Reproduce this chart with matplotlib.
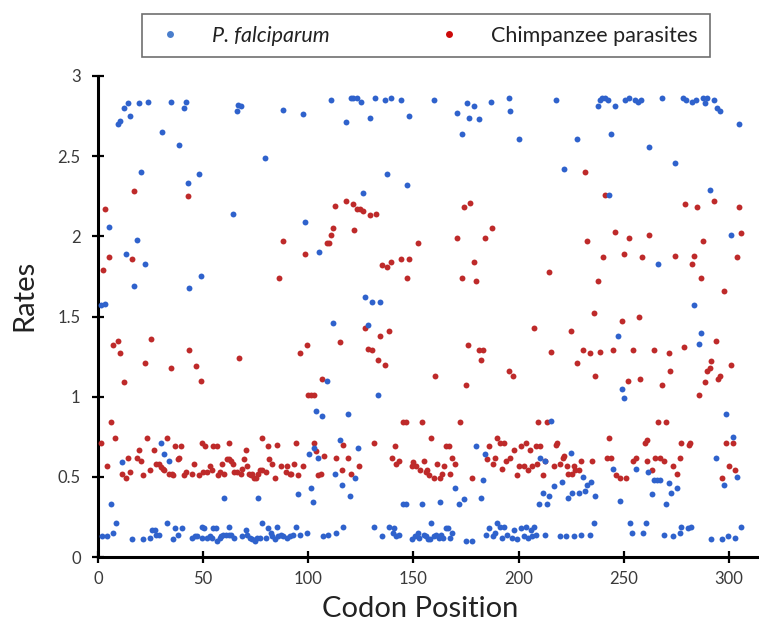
import matplotlib
matplotlib.use("Agg")
import matplotlib.pyplot as plt
from matplotlib.lines import Line2D

plt.rcParams['font.family'] = ['Lato', 'DejaVu Sans']

# P. falciparum rates by codon position
pf_x = [9.3, 10.5, 12.5, 14.4, 15.3, 19.7, 23.8, 30.5, 34.6, 38.5, 40.8, 42.0, 20.6, 43.0, 47.9,
        5.2, 18.6, 13.3, 22.4, 17.3, 43.5, 48.8, 1.3, 3.1, 29.8, 31.5, 33.7, 11.5, 6.1, 8.4,
        2.1, 4.5, 7.3, 16.4, 21.3, 24.8, 25.7, 26.9, 27.8, 28.9, 32.6, 35.5, 36.6, 37.9, 39.9,
        44.7, 46.2, 47.0,
        65.9, 66.7, 67.9, 88.1, 97.3, 79.3, 64.1, 98.2, 59.9, 76.1, 95.0, 101.2, 102.3, 103.7,
        102.9, 100.2, 49.6, 50.6, 49.3, 51.9, 53.2, 54.3, 54.8, 55.9, 56.7, 57.9, 58.6, 59.6,
        60.7, 62.1, 62.3, 63.4, 64.6, 68.7, 70.2, 71.0, 72.3, 73.4, 74.5, 75.8, 77.0, 78.2,
        79.7, 81.0, 82.2, 82.9, 84.0, 85.3, 85.7, 86.9, 88.1, 89.8, 91.3, 92.5, 94.0, 96.0, 99.3,
        110.9, 120.5, 121.4, 123.1, 125.0, 131.9, 136.3, 139.2, 144.0, 117.8, 129.1, 147.9,
        137.4, 147.0, 126.1, 105.3, 127.1, 130.1, 134.2, 111.8, 128.2, 108.9, 133.3, 106.5,
        119.0, 115.0, 123.8, 104.5, 112.9, 122.3, 115.8, 119.9, 145.2, 146.3, 154.0, 107.2,
        109.2, 113.4, 116.3, 131.2, 135.1, 138.4, 140.8, 140.4, 141.9, 143.1, 149.2, 150.8,
        152.1, 152.7, 155.0, 156.0,
        159.7, 175.5, 178.6, 186.7, 195.2, 170.7, 176.6, 181.0, 195.9, 172.9, 200.0, 179.8,
        183.9, 183.0, 169.6, 173.8, 171.6, 181.9, 162.5, 156.8, 157.7, 158.5, 159.7, 160.9,
        162.1, 163.2, 164.2, 165.3, 166.4, 167.4, 168.5, 175.0, 177.7, 184.6, 185.9, 187.8,
        188.7, 189.9, 191.1, 191.9, 193.2, 194.3, 196.8, 198.0, 199.2, 201.2, 202.4, 203.3,
        204.5, 205.7, 206.4, 207.3, 208.5,
        217.7, 237.8, 238.7, 239.8, 241.1, 242.3, 245.9, 250.7, 252.4, 255.3, 256.9, 258.1,
        227.7, 243.9, 221.4, 242.9, 247.2, 249.1, 250.2, 215.6, 210.4, 212.4, 225.0, 245.0,
        256.0, 230.6, 234.6, 232.7, 220.5, 216.6, 211.8, 214.5, 209.7, 213.4, 223.5, 225.6,
        228.7, 231.6, 236.5, 248.1, 212.4, 219.8, 222.6, 226.5, 229.8, 233.9, 235.7, 253.1,
        253.9, 259.3, 260.4,
        268.1, 278.3, 279.4, 282.4, 284.3, 287.6, 288.8, 289.7, 293.0, 294.5, 295.6, 304.8,
        262.2, 274.4, 290.9, 301.1, 266.1, 283.5, 286.7, 285.7, 298.8, 302.1, 293.8, 261.3,
        264.2, 265.8, 267.3, 271.4, 275.5, 272.6, 263.4, 270.3, 297.6, 303.9, 269.3, 273.4,
        276.8, 277.4, 280.7, 281.9, 291.7, 296.5, 299.7, 302.8, 305.8]
pf_y = [2.70, 2.72, 2.80, 2.83, 2.75, 2.83, 2.84, 2.65, 2.84, 2.57, 2.80, 2.84, 2.40, 2.33, 2.39,
        2.06, 1.98, 1.89, 1.83, 1.69, 1.68, 1.75, 1.57, 1.58, 0.71, 0.64, 0.60, 0.59, 0.33, 0.21,
        0.13, 0.13, 0.15, 0.11, 0.11, 0.12, 0.17, 0.17, 0.14, 0.14, 0.21, 0.11, 0.18, 0.14, 0.18,
        0.12, 0.13, 0.13,
        2.78, 2.82, 2.81, 2.79, 2.76, 2.49, 2.14, 2.09, 0.37, 0.37, 0.39, 0.43, 0.34, 0.91,
        0.68, 0.64, 0.19, 0.18, 0.12, 0.12, 0.13, 0.12, 0.18, 0.18, 0.10, 0.12, 0.13, 0.14,
        0.14, 0.19, 0.14, 0.14, 0.12, 0.13, 0.17, 0.14, 0.12, 0.11, 0.10, 0.12, 0.12, 0.21,
        0.12, 0.18, 0.15, 0.13, 0.11, 0.19, 0.13, 0.14, 0.13, 0.12, 0.13, 0.14, 0.19, 0.14, 0.15,
        2.85, 2.86, 2.86, 2.86, 2.84, 2.86, 2.85, 2.86, 2.85, 2.71, 2.74, 2.75,
        2.39, 2.32, 2.27, 1.90, 1.62, 1.59, 1.59, 1.46, 1.45, 1.10, 1.01, 0.88,
        0.89, 0.73, 0.68, 0.62, 0.52, 0.49, 0.45, 0.38, 0.33, 0.33, 0.33, 0.13,
        0.14, 0.15, 0.19, 0.19, 0.13, 0.19, 0.18, 0.15, 0.13, 0.14, 0.11, 0.13,
        0.15, 0.12, 0.14, 0.13,
        2.85, 2.83, 2.81, 2.84, 2.86, 2.77, 2.74, 2.73, 2.78, 2.64, 2.61, 0.69,
        0.64, 0.48, 0.43, 0.36, 0.33, 0.37, 0.34, 0.11, 0.11, 0.21, 0.13, 0.14,
        0.12, 0.14, 0.12, 0.18, 0.18, 0.12, 0.15, 0.10, 0.10, 0.14, 0.18, 0.13,
        0.15, 0.21, 0.19, 0.12, 0.19, 0.14, 0.12, 0.17, 0.11, 0.18, 0.13, 0.19,
        0.12, 0.17, 0.13, 0.19, 0.14,
        2.85, 2.81, 2.85, 2.86, 2.86, 2.85, 2.81, 2.85, 2.86, 2.85, 2.84, 2.85,
        2.61, 2.64, 2.42, 2.26, 1.38, 1.05, 0.99, 0.85, 0.62, 0.60, 0.65, 0.55,
        0.55, 0.50, 0.47, 0.45, 0.47, 0.44, 0.40, 0.38, 0.33, 0.33, 0.37, 0.40,
        0.40, 0.41, 0.38, 0.35, 0.14, 0.13, 0.13, 0.13, 0.14, 0.14, 0.21, 0.21,
        0.15, 0.15, 0.21,
        2.86, 2.86, 2.85, 2.84, 2.85, 2.86, 2.83, 2.86, 2.85, 2.80, 2.78, 2.70,
        2.56, 2.46, 2.29, 2.01, 1.83, 1.57, 1.40, 1.33, 0.89, 0.75, 0.62, 0.53,
        0.48, 0.48, 0.48, 0.46, 0.43, 0.40, 0.39, 0.33, 0.45, 0.50, 0.14, 0.13,
        0.15, 0.19, 0.18, 0.19, 0.11, 0.11, 0.13, 0.12, 0.19]

# Chimpanzee parasite rates by codon position
cp_x = [3.1, 17.3, 42.7, 5.2, 2.2, 16.4, 9.3, 7.3, 10.5, 12.5, 25.4, 22.4, 34.6, 43.5, 46.7,
        48.8, 6.3, 1.3, 8.1, 4.2, 11.2, 13.3, 14.3, 15.3, 19.4, 18.6, 20.6, 21.3, 23.4, 24.7,
        26.6, 27.8, 28.9, 29.8, 30.7, 31.5, 32.6, 33.7, 35.0, 35.8, 36.6, 37.9, 38.5, 39.5,
        40.8, 41.7, 44.7, 45.8, 47.9, 50.0,
        88.1, 98.2, 86.3, 67.2, 96.0, 99.3, 99.9, 101.2, 102.5, 102.9, 103.7, 49.6, 51.1, 54.8,
        56.4, 62.1, 70.2, 78.2, 81.0, 85.3, 94.0, 51.6, 53.2, 54.3, 57.0, 57.9, 59.1, 59.9,
        61.2, 62.3, 63.4, 64.1, 64.9, 66.2, 67.9, 68.7, 69.4, 71.0, 71.8, 72.6, 73.4, 74.2,
        74.9, 76.1, 77.0, 78.2, 79.7, 81.4, 82.6, 84.0, 86.9, 89.2, 90.1, 91.3, 92.0, 93.2,
        94.9, 97.3,
        112.9, 117.8, 121.1, 123.1, 124.7, 126.2, 129.4, 132.2, 121.9, 111.8, 110.9, 110.0,
        108.9, 152.1, 135.1, 137.4, 139.2, 144.0, 147.9, 147.0, 127.1, 134.2, 138.4, 115.0,
        128.2, 130.5, 133.3, 136.3, 106.5, 145.2, 146.3, 154.0, 116.3, 131.2, 141.1, 107.6,
        113.4, 119.0, 124.0, 116.1, 120.2, 104.5, 105.8, 139.9, 143.1, 141.9, 149.9, 151.2,
        149.2, 153.1, 155.2, 156.3,
        173.8, 176.7, 170.7, 183.9, 187.2, 178.6, 172.9, 179.8, 207.3, 175.8, 181.0, 183.0,
        181.9, 160.4, 175.0, 195.2, 197.3, 171.9, 158.5, 165.3, 166.9, 189.9, 191.1, 193.2,
        185.9, 198.0, 201.2, 203.3, 205.4, 208.1, 168.5, 169.6, 156.1, 157.3, 159.7, 162.5,
        161.2, 164.4, 163.6, 167.6, 177.7, 185.1, 187.8, 189.0, 191.9, 194.0, 195.9, 199.2,
        200.3, 202.4, 204.5, 206.4, 208.9,
        231.6, 241.1, 245.9, 252.6, 232.7, 239.9, 250.2, 258.9, 214.5, 237.8, 235.7, 249.1,
        257.1, 224.7, 215.6, 230.6, 233.9, 238.9, 244.9, 254.2, 227.7, 236.5, 252.1, 257.9,
        209.2, 213.4, 210.4, 217.7, 218.4, 242.9, 261.1, 259.9, 241.8, 243.7, 212.4, 216.6,
        219.8, 220.9, 221.7, 222.8, 226.5, 229.8, 234.9, 254.6, 256.0, 211.8, 223.5, 225.6,
        228.6, 227.0, 246.5, 248.1, 251.0,
        279.2, 284.6, 292.7, 304.8, 262.2, 305.8, 287.5, 274.3, 283.5, 282.4, 303.8, 286.7,
        297.7, 264.2, 271.4, 278.7, 293.8, 291.6, 290.8, 289.6, 300.9, 272.2, 288.7, 294.8,
        295.6, 268.3, 285.6, 266.1, 270.3, 277.4, 280.8, 281.6, 298.8, 302.1, 261.2, 265.0,
        267.4, 269.3, 273.5, 276.6, 263.3, 275.4, 300.0, 302.9, 296.7]
cp_y = [2.17, 2.28, 2.25, 1.87, 1.79, 1.86, 1.35, 1.32, 1.27, 1.09, 1.36, 1.21, 1.18, 1.29, 1.19,
        1.10, 0.84, 0.71, 0.74, 0.57, 0.52, 0.49, 0.62, 0.53, 0.67, 0.62, 0.60, 0.51, 0.74, 0.54,
        0.67, 0.58, 0.58, 0.56, 0.55, 0.54, 0.74, 0.52, 0.52, 0.51, 0.69, 0.61, 0.62, 0.69,
        0.51, 0.53, 0.52, 0.58, 0.51, 0.53,
        1.97, 1.89, 1.74, 1.24, 1.27, 1.32, 1.01, 1.01, 1.01, 0.71, 0.66, 0.71, 0.69, 0.69,
        0.69, 0.71, 0.67, 0.74, 0.69, 0.70, 0.71, 0.53, 0.57, 0.54, 0.51, 0.53, 0.58, 0.52,
        0.61, 0.61, 0.60, 0.58, 0.53, 0.53, 0.52, 0.55, 0.61, 0.57, 0.52, 0.51, 0.52, 0.49,
        0.49, 0.52, 0.54, 0.54, 0.53, 0.61, 0.58, 0.49, 0.57, 0.53, 0.57, 0.52, 0.52, 0.58,
        0.51, 0.57,
        2.19, 2.22, 2.20, 2.17, 2.17, 2.16, 2.13, 2.14, 2.04, 2.05, 2.01, 1.96,
        1.96, 1.96, 1.82, 1.81, 1.84, 1.86, 1.86, 1.74, 1.43, 1.38, 1.41, 1.34,
        1.30, 1.29, 1.23, 1.20, 1.11, 0.84, 0.84, 0.84, 0.70, 0.71, 0.69, 0.63,
        0.62, 0.62, 0.57, 0.54, 0.52, 0.51, 0.52, 0.62, 0.60, 0.58, 0.59, 0.57,
        0.57, 0.54, 0.60, 0.54,
        2.18, 2.21, 1.99, 1.99, 2.05, 1.84, 1.74, 1.72, 1.43, 1.32, 1.29, 1.29,
        1.23, 1.13, 1.07, 1.16, 1.13, 0.84, 0.74, 0.69, 0.69, 0.74, 0.71, 0.71,
        0.69, 0.67, 0.69, 0.71, 0.67, 0.69, 0.62, 0.58, 0.53, 0.51, 0.49, 0.49,
        0.58, 0.57, 0.52, 0.52, 0.49, 0.61, 0.58, 0.62, 0.55, 0.60, 0.62, 0.51,
        0.57, 0.57, 0.54, 0.57, 0.58,
        2.40, 2.26, 2.03, 1.99, 1.97, 1.87, 1.89, 1.87, 1.78, 1.72, 1.52, 1.47,
        1.50, 1.41, 1.28, 1.29, 1.27, 1.28, 1.29, 1.29, 1.21, 1.13, 1.10, 1.11,
        0.84, 0.84, 0.69, 0.70, 0.71, 0.74, 0.73, 0.71, 0.62, 0.62, 0.60, 0.57,
        0.58, 0.62, 0.63, 0.57, 0.57, 0.60, 0.60, 0.60, 0.62, 0.51, 0.52, 0.52,
        0.54, 0.54, 0.51, 0.49, 0.49,
        2.20, 2.18, 2.22, 2.18, 2.01, 2.02, 1.97, 1.88, 1.88, 1.83, 1.87, 1.74,
        1.66, 1.29, 1.27, 1.31, 1.35, 1.22, 1.18, 1.16, 1.20, 1.16, 1.09, 1.11,
        1.13, 1.07, 1.01, 0.84, 0.84, 0.71, 0.70, 0.71, 0.71, 0.71, 0.60, 0.62,
        0.62, 0.60, 0.57, 0.62, 0.54, 0.52, 0.57, 0.54, 0.49]

x_ticks = [0, 50, 100, 150, 200, 250, 300]
y_ticks = [0, 0.5, 1, 1.5, 2, 2.5, 3]
y_tick_labels = ["0", "0.5", "1", "1.5", "2", "2.5", "3"]

blue = "#2F62CC"
red = "#BE2A2A"

fig = plt.figure(figsize=(7.59, 6.24), dpi=100)
ax = fig.add_axes([98 / 759, 67 / 624, 661 / 759, 481 / 624])

ax.scatter(cp_x, cp_y, s=18, color=red, linewidths=0, zorder=3, clip_on=False)
ax.scatter(pf_x, pf_y, s=18, color=blue, linewidths=0, zorder=3, clip_on=False)

ax.set_xlim(0, 314.3)
ax.set_ylim(0, 3)
ax.set_xticks(x_ticks)
ax.set_yticks(y_ticks)
ax.set_yticklabels(y_tick_labels)
ax.tick_params(direction="inout", length=8, width=1.6, labelsize=12, colors="black",
               labelcolor="#3a3a3a")
ax.tick_params(axis="x", pad=6)
ax.tick_params(axis="y", pad=8.5)

for side in ["top", "right"]:
    ax.spines[side].set_visible(False)
for side in ["left", "bottom"]:
    ax.spines[side].set_linewidth(2.2)
    ax.spines[side].set_color("black")

ax.set_xlabel("Codon Position", fontsize=21, color="#222222")
ax.xaxis.set_label_coords(0.487, -0.082)
ax.set_ylabel("Rates", fontsize=21, color="#222222")
ax.yaxis.set_label_coords(-0.092, 0.543)

handles = [Line2D([], [], linestyle="none", marker="o", markersize=5, markeredgewidth=0, color="#4A7ECC"),
           Line2D([], [], linestyle="none", marker="o", markersize=5, markeredgewidth=0, color="#CC0A0A")]
leg = fig.legend(handles, ["P. falciparum", "Chimpanzee parasites"], ncol=2, loc="center",
                 bbox_to_anchor=(426 / 759, 1 - 35.5 / 624), fontsize=15.5, frameon=True,
                 fancybox=False, edgecolor="#6f6f6f", framealpha=1, columnspacing=4.8,
                 handletextpad=1.2, borderpad=0.55, handlelength=1.5)
leg.get_frame().set_linewidth(1.2)
leg.get_texts()[0].set_style("italic")
for t in leg.get_texts():
    t.set_color("#222222")

fig.savefig("out.png", dpi=100)
